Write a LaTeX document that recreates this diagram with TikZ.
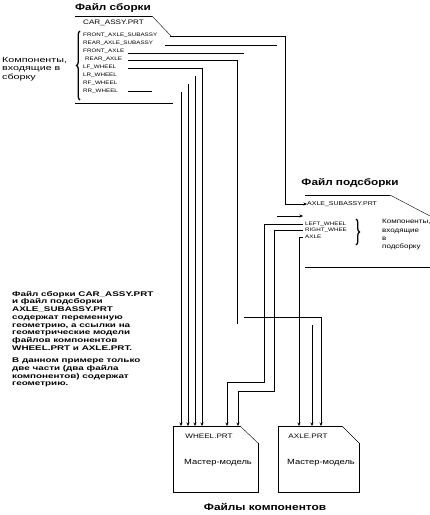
\documentclass[tikz,border=0pt]{standalone}
\usepackage{fontspec}
\newfontfamily\wfont{Liberation Sans}[FakeStretch=1.25]
\newfontfamily\xfont{Liberation Sans}[FakeStretch=1.45]
\usetikzlibrary{arrows.meta,decorations.pathreplacing}
\begin{document}
\begin{tikzpicture}[x=1pt,y=-1pt,
  ln/.style={line width=0.9pt},
  arr/.style={line width=0.9pt,-{Stealth[length=3.5pt,width=3pt]}},
  fold/.style={line width=0.4pt},
  itm/.style={font=\wfont\fontsize{5}{6}\selectfont,anchor=west,inner sep=0pt},
  fname/.style={font=\wfont\fontsize{6.5}{7}\selectfont,inner sep=0pt},
  ttl/.style={font=\wfont\bfseries\fontsize{9.4}{11}\selectfont,inner sep=0pt},
  cmt/.style={font=\xfont\fontsize{7.4}{8.5}\selectfont,align=left,inner sep=0pt},
  blk/.style={font=\xfont\bfseries\fontsize{6.8}{7.7}\selectfont,align=left,inner sep=0pt,anchor=north west},
  mm/.style={font=\wfont\fontsize{7.5}{8}\selectfont,inner sep=0pt},
  brc/.style={line width=1.3pt,decorate,decoration={brace,amplitude=3.5pt}}]
\useasboundingbox (0,0) rectangle (430,515);
% ---------- assembly file ----------
\node[ttl] (t1) at (113,8) {Файл сборки};
\coordinate (d1a) at (75,16);
\coordinate (d1b) at (152,16);
\coordinate (d1c) at (172,37);
\coordinate (d1d) at (75,103);
\coordinate (d1e) at (173,103);
\draw[ln] (d1a) -- (d1b);
\draw[fold] (d1b) -- (d1c);
\draw[ln] (d1d) -- (d1e);
\node[fname,anchor=west] (car) at (83,23) {CAR\_ASSY.PRT};
\node[itm] (fas) at (83,35) {FRONT\_AXLE\_SUBASSY};
\node[itm] (ras) at (83,43) {REAR\_AXLE\_SUBASSY};
\node[itm] (fa)  at (83,51) {FRONT\_AXLE};
\node[itm] (ra)  at (85,59) {REAR\_AXLE};
\node[itm] (lf)  at (83,67) {LF\_WHEEL};
\node[itm] (lr)  at (83,75) {LR\_WHEEL};
\node[itm] (rf)  at (83,83) {RF\_WHEEL};
\node[itm] (rr)  at (83,91) {RR\_WHEEL};
\draw[brc] (80,100) -- (80,31);
\node[cmt,anchor=west] (c1) at (2,69) {Компоненты,\\входящие в\\сборку};
% ---------- subassembly file ----------
\node[ttl] (t2) at (350,183) {Файл подсборки};
\coordinate (d2a) at (305,195);
\coordinate (d2b) at (390,195);
\coordinate (d2c) at (430,216);
\coordinate (d2d) at (305,267);
\coordinate (d2e) at (430,267);
\draw[ln] (d2a) -- (d2b);
\draw[fold] (d2b) -- (d2c);
\draw[ln] (d2d) -- (d2e);
\node[fname,anchor=west,font=\wfont\fontsize{5.6}{6}\selectfont] (sub) at (307,204) {AXLE\_SUBASSY.PRT};
\node[itm] (lw) at (305,224) {LEFT\_WHEEL};
\node[itm] (rw) at (305,230.5) {RIGHT\_WHEE};
\node[itm] (ax) at (305,237) {AXLE};
\draw[brc] (356,219) -- (356,245);
\node[cmt,anchor=north west,font=\wfont\fontsize{6.4}{8.4}\selectfont] (c2) at (382,219) {Компоненты,\\входящие\\в\\подсборку};
% ---------- explanatory text ----------
\node[blk] (txt) at (12,291) {Файл сборки CAR\_ASSY.PRT\\и файл подсборки\\AXLE\_SUBASSY.PRT\\содержат переменную\\геометрию, а ссылки на\\геометрические модели\\файлов компонентов\\WHEEL.PRT и AXLE.PRT.\\[5pt]В данном примере только\\две части (два файла\\компонентов) содержат\\геометрию.};
% ---------- component files ----------
\coordinate (w1) at (173,426);
\coordinate (w2) at (240,426);
\coordinate (w3) at (258,443);
\coordinate (w4) at (258,492);
\coordinate (w5) at (173,492);
\draw[ln] (w2) -- (w1) -- (w5) -- (w4) -- (w3);
\draw[fold] (w2) -- (w3);
\coordinate (a1) at (278,426);
\coordinate (a2) at (342,426);
\coordinate (a3) at (359,443);
\coordinate (a4) at (359,492);
\coordinate (a5) at (278,492);
\draw[ln] (a2) -- (a1) -- (a5) -- (a4) -- (a3);
\draw[fold] (a2) -- (a3);
\node[fname] (wheel) at (209,436) {WHEEL.PRT};
\node[mm] (wm) at (218,463) {Мастер-модель};
\node[fname] (axle) at (308,436) {AXLE.PRT};
\node[mm] (am) at (321,463) {Мастер-модель};
\node[ttl,font=\wfont\bfseries\fontsize{9.5}{10}\selectfont] (t3) at (265,507) {Файлы компонентов};
% ---------- connectors ----------
\coordinate (lx) at (128,0);
\coordinate (p1) at (170,36);
\coordinate (p1b) at (285,36);
\draw[arr] (p1) -- (p1b) |- (sub.west);
\coordinate (p2) at (165,45);
\coordinate (p2b) at (277,45);
\draw[ln] (p2) -- (p2b);
\coordinate (p2c) at (277,216);
\coordinate (p2d) at (303,216);
\draw[arr] (p2c) -- (p2d);
\coordinate (p3) at (244,53);
\draw[ln] (lx |- p3) -- (p3);
\coordinate (p3b) at (244,317);
\coordinate (p3c) at (321,317);
\draw[arr] (p3b) -- (p3c) -- (p3c |- a1);
\coordinate (p4) at (237,60);
\coordinate (p4b) at (237,324);
\draw[ln] (lx |- p4) -- (p4) -- (p4b);
\coordinate (p4c) at (312,325);
\draw[arr] (p4c) -- (p4c |- a1);
\coordinate (p5) at (202,68);
\draw[arr] (lx |- p5) -- (p5) -- (p5 |- w1);
\coordinate (p6) at (195,76);
\draw[arr] (p6) -- (p6 |- w1);
\coordinate (p7) at (188,84);
\draw[arr] (p7) -- (p7 |- w1);
\coordinate (p8) at (152,91);
\draw[ln] (lx |- p8) -- (p8);
\coordinate (p8b) at (181,92);
\draw[arr] (p8b) -- (p8b |- w1);
\coordinate (q1) at (264,224);
\coordinate (q1b) at (227,382);
\draw[arr] ([xshift=-2pt]lw.west) -- (q1) |- (q1b) -- (q1b |- w1);
\coordinate (q2) at (274,230.5);
\coordinate (q2b) at (238,391);
\draw[arr] ([xshift=-2pt]rw.west) -- (q2) |- (q2b) -- (q2b |- w1);
\coordinate (q3) at (299,237);
\draw[arr] ([xshift=-2pt]ax.west) -- (q3) -- (q3 |- a1);
\end{tikzpicture}
\end{document}
